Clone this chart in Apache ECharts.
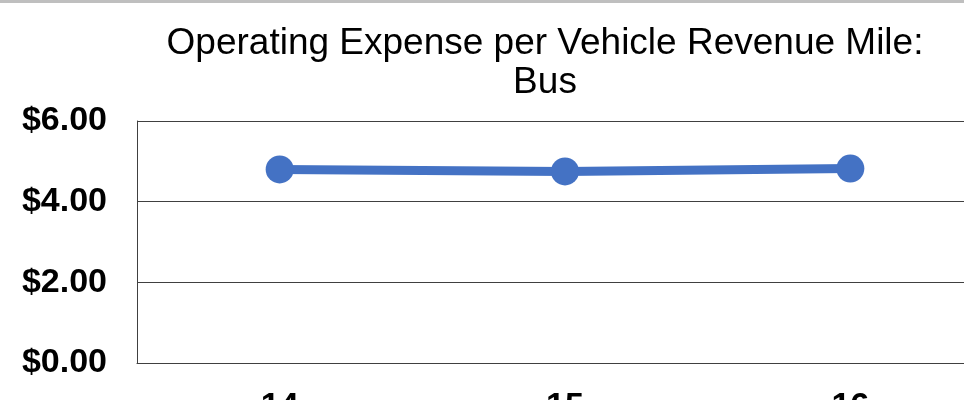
<!DOCTYPE html>
<html>
<head>
<meta charset="utf-8">
<script src="https://cdn.jsdelivr.net/npm/echarts@6/dist/echarts.min.js"></script>
<style>
  html, body { margin: 0; padding: 0; background: #fff; }
  #chart { width: 964px; height: 400px; }
</style>
</head>
<body>
<div id="chart"></div>
<script>
// data
var years = ['14', '15', '16'];
var costPerMile = [4.80, 4.75, 4.82];
var yTicks = [0, 2, 4, 6];

var chart = echarts.init(document.getElementById('chart'));
chart.setOption({
  animation: false,
  title: {
    text: 'Operating Expense per Vehicle Revenue Mile:\nBus',
    left: 540,
    top: 19,
    textAlign: 'center',
    textStyle: {
      fontFamily: 'Liberation Sans',
      fontWeight: 'normal',
      fontSize: 37,
      lineHeight: 39,
      color: '#000'
    }
  },
  graphic: [{
    type: 'rect',
    shape: { x: 0, y: 0, width: 964, height: 3 },
    style: { fill: '#bfbfbf' }
  }],
  grid: { left: 137, top: 121, bottom: 37, right: -29, outerBoundsMode: 'none', containLabel: false },
  xAxis: {
    type: 'category',
    data: years,
    axisTick: { show: false },
    axisLine: { lineStyle: { color: '#404040', width: 1 } },
    axisLabel: {
      margin: 27,
      fontFamily: 'Liberation Sans',
      fontWeight: 'bold',
      fontSize: 34,
      color: '#000'
    }
  },
  yAxis: {
    type: 'value',
    min: yTicks[0],
    max: yTicks[yTicks.length - 1],
    interval: 2,
    axisLine: { show: true, lineStyle: { color: '#404040', width: 1 } },
    axisTick: { show: false },
    splitLine: { lineStyle: { color: '#404040', width: 1 } },
    axisLabel: {
      margin: 30,
      fontFamily: 'Liberation Sans',
      fontWeight: 'bold',
      fontSize: 34,
      color: '#000',
      formatter: function (v) { return '$' + v.toFixed(2); }
    }
  },
  series: [{
    type: 'line',
    data: costPerMile,
    symbol: 'circle',
    symbolSize: 28,
    itemStyle: { color: '#4472c4' },
    lineStyle: { color: '#4472c4', width: 9 }
  }]
});
</script>
</body>
</html>
